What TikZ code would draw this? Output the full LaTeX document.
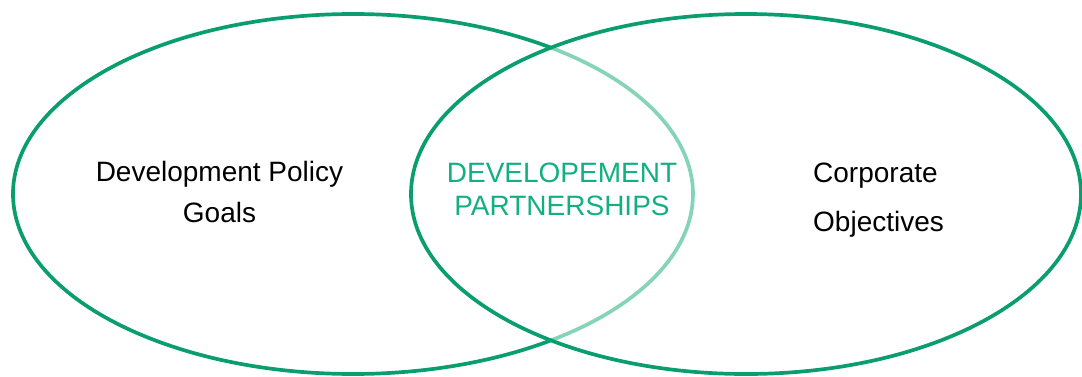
\documentclass[tikz,border=0pt]{standalone}
\usepackage{fontspec}
\setmainfont{Liberation Sans}
\definecolor{darkgreen}{HTML}{0A9E6E}
\definecolor{lightgreen}{HTML}{86D4B8}
\definecolor{textgreen}{HTML}{12B07E}
\begin{document}
\begin{tikzpicture}[x=1pt,y=-1pt,
  ring/.style={draw=darkgreen,line width=3.7pt},
  lightring/.style={draw=lightgreen,line width=3.7pt},
  lbl/.style={font=\fontsize{28}{32}\selectfont,inner sep=0pt,anchor=base},
  lblg/.style={lbl,text=textgreen}]
\useasboundingbox (0,0) rectangle (1082,376);
% left ellipse: outer (dark) part
\draw[ring] (353,194) ++(54.4:340pt and 180pt)
  arc[start angle=54.4, end angle=305.6, x radius=340pt, y radius=180pt];
% left ellipse: part inside the right ellipse (light)
\draw[lightring] (353,194) ++(-54.4:340pt and 180pt)
  arc[start angle=-54.4, end angle=54.4, x radius=340pt, y radius=180pt];
% right ellipse
\draw[ring] (746,194) ellipse [x radius=335pt, y radius=180pt];
% labels
\node[lbl] (l1) at (219.5,181) {Development Policy};
\node[lbl] (l2) at (219.5,222) {Goals};
\node[lblg] (m1) at (562,182) {DEVELOPEMENT};
\node[lblg] (m2) at (562,215) {PARTNERSHIPS};
\node[lbl,anchor=base west] (r1) at (813,182) {Corporate};
\node[lbl,anchor=base west] (r2) at (813,231.5) {Objectives};
\end{tikzpicture}
\end{document}
